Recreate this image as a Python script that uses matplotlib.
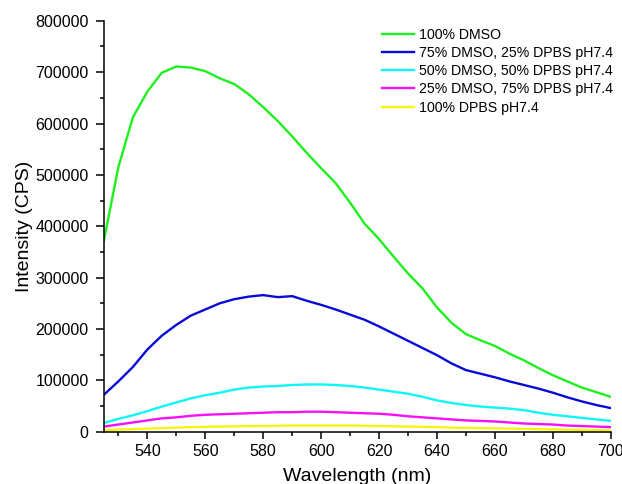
import numpy as np
import matplotlib
matplotlib.use("Agg")
import matplotlib.pyplot as plt
from matplotlib.ticker import MultipleLocator

plt.rcParams["font.family"] = ["Liberation Sans", "DejaVu Sans"]

# emission spectra, sampled every 5 nm
wavelength = np.arange(525, 701, 5)

dmso_100 = [372000, 515000, 612000, 662000, 699000, 711000, 709000, 702000, 688000, 677000,
            657000, 632000, 605000, 575000, 543000, 513000, 484000, 446000, 405000, 375000,
            341000, 308000, 279000, 242000, 212000, 190000, 178000, 167000, 152000, 139000,
            124000, 110000, 98000, 86000, 77000, 68000]
dmso_75 = [72000, 98000, 126000, 160000, 187000, 208000, 226000, 238000, 250000, 258000,
           263000, 266000, 262000, 264000, 255000, 247000, 238000, 228000, 218000, 205000,
           191000, 177000, 163000, 149000, 133000, 120000, 113000, 106000, 98000, 91000,
           84000, 76000, 67000, 59000, 52000, 46000]
dmso_50 = [17000, 25000, 32000, 40000, 49000, 57000, 65000, 71000, 76000, 82000,
           86000, 88000, 89000, 91000, 92000, 92000, 91000, 89000, 86000, 82000,
           78000, 74000, 68000, 61000, 56000, 52000, 49000, 47000, 45000, 42000,
           37000, 33000, 30000, 27000, 24000, 21000]
dmso_25 = [10000, 14000, 18000, 22000, 26000, 28000, 31000, 33000, 34000, 35000,
           36000, 37000, 38000, 38000, 39000, 39000, 38000, 37000, 36000, 35000,
           33000, 30000, 28000, 26000, 24000, 22000, 21000, 20000, 18000, 16000,
           15000, 14000, 12000, 11000, 10000, 9000]
dpbs_100 = [3000, 4000, 5000, 6000, 7000, 8000, 9000, 9500, 10000, 10500,
            11000, 11000, 11500, 12000, 12000, 12000, 12000, 12000, 11500, 11000,
            10500, 10000, 9500, 9000, 8000, 7500, 7000, 6500, 6000, 5500,
            5000, 4500, 4000, 3500, 3000, 2500]

labels = ["100% DMSO",
          "75% DMSO, 25% DPBS pH7.4",
          "50% DMSO, 50% DPBS pH7.4",
          "25% DMSO, 75% DPBS pH7.4",
          "100% DPBS pH7.4"]
colors = ["#1ef01e", "#0a0ad8", "#10f5f5", "#f510f5", "#f5f510"]
series = [dmso_100, dmso_75, dmso_50, dmso_25, dpbs_100]

fig = plt.figure(figsize=(6.22, 4.84), dpi=100)
ax = fig.add_axes([0.167, 0.108, 0.815, 0.849])

for y, c, lab in zip(series, colors, labels):
    ax.plot(wavelength, y, color=c, lw=1.7, label=lab)

ax.set_xlim(525, 700)
ax.set_ylim(0, 800000)
ax.xaxis.set_major_locator(MultipleLocator(20))
ax.xaxis.set_minor_locator(MultipleLocator(10))
ax.yaxis.set_major_locator(MultipleLocator(100000))
ax.yaxis.set_minor_locator(MultipleLocator(50000))

for side in ("top", "right"):
    ax.spines[side].set_visible(False)
for side in ("left", "bottom"):
    ax.spines[side].set_linewidth(1.1)

ax.tick_params(axis="both", which="major", direction="out", length=5, width=1.1,
               labelsize=11.5, pad=4)
ax.tick_params(axis="both", which="minor", direction="out", length=3, width=1.1)
ax.tick_params(axis="y", which="major", length=6, pad=5)

ax.set_xlabel("Wavelength (nm)", fontsize=14, labelpad=6.5)
ax.set_ylabel("Intensity (CPS)", fontsize=14, labelpad=1.5)

ax.legend(loc="upper left", bbox_to_anchor=(0.614, 0.943), bbox_transform=fig.transFigure,
          frameon=False, fontsize=10.2, handlelength=2.3, handletextpad=0.35,
          labelspacing=0.3, borderaxespad=0, borderpad=0)

fig.savefig("out.png", dpi=100)
